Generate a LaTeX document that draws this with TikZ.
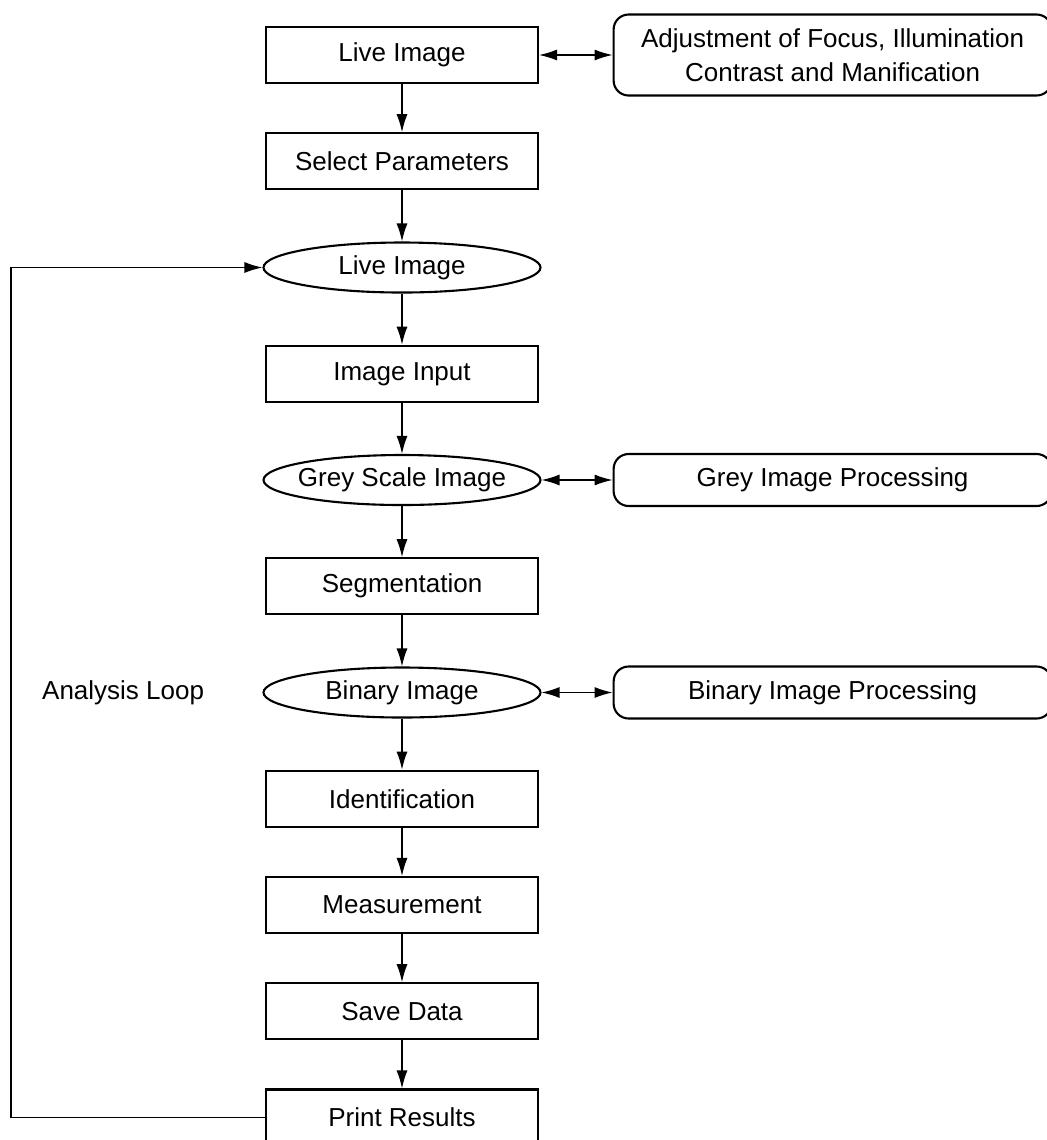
\documentclass[tikz,border=0pt]{standalone}
\usepackage{fontspec}
\setmainfont{Liberation Sans}
\usepackage{tikz}
\usetikzlibrary{shapes.geometric}
\usetikzlibrary{arrows.meta}
\usetikzlibrary{positioning}
\usetikzlibrary{matrix}

\tikzset{
stepbox/.style={draw, line width=1.2pt, minimum width=5.44cm, minimum height=1.12cm},
imgell/.style={draw, ellipse, line width=1.2pt, minimum width=5.54cm, minimum height=1cm, inner xsep=-0.8cm, inner ysep=0pt},
procbox/.style={draw, rounded corners=0.3cm, line width=1.2pt, minimum width=8.76cm, minimum height=1.04cm, align=center},
flow/.style={line width=0.75pt, -{Latex[length=0.36cm,width=0.22cm]}},
both/.style={line width=0.75pt, {Latex[length=0.36cm,width=0.22cm]}-{Latex[length=0.36cm,width=0.22cm]}},
}

\begin{document}
\begin{tikzpicture}[font=\fontsize{14.8}{19.4}\selectfont]
\useasboundingbox (0,0) rectangle (20.92,-22.8);
\matrix [matrix of nodes, nodes={anchor=center}, matrix anchor=lv1.center,
row sep={2.125cm,between origins}] at (8.04,-1.1)
{
|[stepbox] (lv1)|{Live Image} \\
|[stepbox] (sp)|{Select Parameters} \\
|[imgell] (li2)|{Live Image} \\
|[stepbox] (ii)|{Image Input} \\
|[imgell] (gs)|{Grey Scale Image} \\
|[stepbox] (seg)|{Segmentation} \\
|[imgell] (bi)|{Binary Image} \\
|[stepbox] (idf)|{Identification} \\
|[stepbox] (ms)|{Measurement} \\
|[stepbox] (sd)|{Save Data} \\
|[stepbox] (pr)|{Print Results} \\
};
\node (gp) [procbox, right=1.42cm of gs] {Grey Image Processing};
\node (bp) [procbox, right=1.42cm of bi] {Binary Image Processing};
\node (adj) [procbox, minimum height=1.62cm] at (gp |- lv1) {Adjustment of Focus, Illumination\\Contrast and Manification};
\node (al) [left=1.16cm of bi, inner sep=0pt] {Analysis Loop};
\draw[flow] (lv1.south) -- (sp.north);
\draw[flow] (sp.south) -- (li2.north);
\draw[flow] (li2.south) -- (ii.north);
\draw[flow] (ii.south) -- (gs.north);
\draw[flow] (gs.south) -- (seg.north);
\draw[flow] (seg.south) -- (bi.north);
\draw[flow] (bi.south) -- (idf.north);
\draw[flow] (idf.south) -- (ms.north);
\draw[flow] (ms.south) -- (sd.north);
\draw[flow] (sd.south) -- (pr.north);
\draw[both] (lv1.east) -- (adj.west);
\draw[both] (gs.east) -- (gp.west);
\draw[both] (bi.east) -- (bp.west);
\coordinate (lp) at ([xshift=-5.08cm]pr.west);
\draw[flow] (pr.west) -- (lp) |- (li2.west);
\end{tikzpicture}
\end{document}
